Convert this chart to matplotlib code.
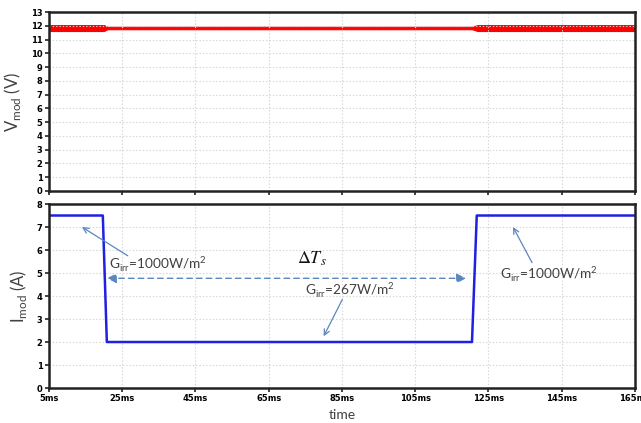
import matplotlib
matplotlib.use("Agg")
import matplotlib.pyplot as plt
import numpy as np

# time breakpoints (ms) and module current levels (A)
t_current = [5, 19.7, 20.8, 120.5, 121.8, 165]
i_current = [7.5, 7.5, 2.0, 2.0, 7.5, 7.5]

# module voltage ripple envelope (V) at each breakpoint
t_voltage = [5, 20.0, 21.0, 120.5, 122.0, 165]
v_upper = [12.05, 12.05, 11.93, 11.93, 12.05, 12.05]
v_lower = [11.62, 11.62, 11.75, 11.75, 11.62, 11.62]

x_ticks = [5, 25, 45, 65, 85, 105, 125, 145, 165]
x_tick_labels = ["5ms", "25ms", "45ms", "65ms", "85ms", "105ms", "125ms", "145ms", "165ms"]
v_ticks = list(range(0, 14))
i_ticks = list(range(0, 9))

label_color = "#404040"
arrow_color = "#5b86c0"
tick_font = dict(family=["Liberation Sans Narrow", "DejaVu Sans"], weight="bold", size=6.0)
text_font = ["Lato", "DejaVu Sans"]

fig = plt.figure(figsize=(6.41, 4.23), dpi=100)
ax_v = fig.add_axes([0.0764, 0.5485, 0.9142, 0.4231])
ax_i = fig.add_axes([0.0764, 0.0827, 0.9142, 0.4350])


def style_axes(ax, yticks, ymax):
    ax.set_xlim(5, 165)
    ax.set_ylim(0, ymax)
    ax.set_xticks(x_ticks)
    ax.set_yticks(yticks)
    ax.grid(True, color="#d4d4d4", linestyle=(0, (1.2, 1.8)), linewidth=0.8)
    for s in ax.spines.values():
        s.set_linewidth(1.8)
        s.set_color("#222222")
    ax.tick_params(direction="out", length=3, width=1.2, color="#222222", pad=1.5)
    ax.set_yticklabels([str(v) for v in yticks], **tick_font)


# top panel: module voltage
style_axes(ax_v, v_ticks, 13)
ax_v.set_xticklabels([])
ax_v.fill_between(t_voltage, v_lower, v_upper, color="#ff0000", linewidth=0.8, edgecolor="#ff0000")
ax_v.set_ylabel(r"V$_{\mathregular{mod}}$ (V)", fontsize=12, color=label_color,
                family=text_font, labelpad=6)

# bottom panel: module current
style_axes(ax_i, i_ticks, 8)
ax_i.set_xticklabels(x_tick_labels, **tick_font)
ax_i.plot(t_current, i_current, color="#2020e0", linewidth=1.8)
ax_i.set_ylabel(r"I$_{\mathregular{mod}}$ (A)", fontsize=12, color=label_color,
                family=text_font, labelpad=6)
ax_i.set_xlabel("time", fontsize=10, color=label_color, family=text_font, labelpad=4)

# irradiance annotations
g_high = r"G$_{\mathregular{irr}}$=1000W/m$^{\mathregular{2}}$"
g_low = r"G$_{\mathregular{irr}}$=267W/m$^{\mathregular{2}}$"
arrow_kw = dict(arrowstyle="->", color=arrow_color, lw=0.9, shrinkA=0, shrinkB=0)

ax_i.annotate("", xy=(14.0, 7.0), xytext=(26.5, 5.75), arrowprops=arrow_kw)
ax_i.text(34.7, 5.4, g_high, ha="center", va="center", fontsize=9.8,
          color=label_color, family=text_font)

ax_i.annotate("", xy=(80.0, 2.25), xytext=(85.1, 3.85), arrowprops=arrow_kw)
ax_i.text(87.3, 4.3, g_low, ha="center", va="center", fontsize=9.8,
          color=label_color, family=text_font)

ax_i.annotate("", xy=(131.7, 7.0), xytext=(136.9, 5.45), arrowprops=arrow_kw)
ax_i.text(141.5, 4.97, g_high, ha="center", va="center", fontsize=9.8,
          color=label_color, family=text_font)

# settling interval
ax_i.annotate("", xy=(20.8, 4.77), xytext=(118.9, 4.77),
              arrowprops=dict(arrowstyle="<|-|>", color=arrow_color, lw=1.0,
                              linestyle=(0, (4, 3)), mutation_scale=14,
                              shrinkA=0, shrinkB=0))
ax_i.text(76.7, 5.6, r"$\Delta T_s$", ha="center", va="center", fontsize=13,
          color="#111111", math_fontfamily="stix")

fig.savefig("out.png", dpi=100)
